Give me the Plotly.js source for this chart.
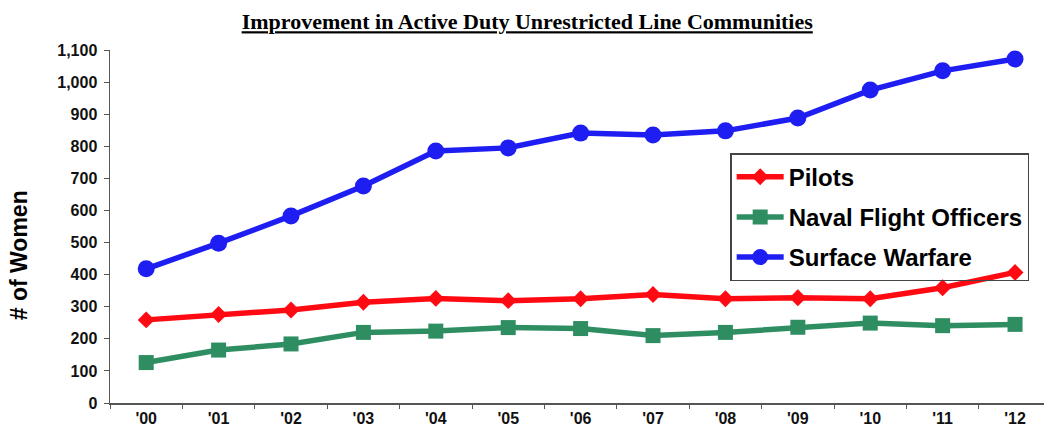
<!DOCTYPE html>
<html>
<head>
<meta charset="utf-8">
<script src="https://cdn.plot.ly/plotly-3.0.1.min.js"></script>
<style>html,body{margin:0;padding:0;background:#fff;}#chart{width:1044px;height:431px;}</style>
</head>
<body>
<div id="chart"></div>
<script>
const years = ["'00","'01","'02","'03","'04","'05","'06","'07","'08","'09","'10","'11","'12"];
const pilots = [259, 276, 290, 314, 326, 319, 325, 338, 325, 328, 325, 359, 407];
const nfo = [126, 165, 184, 220, 224, 235, 232, 210, 220, 236, 249, 241, 245];
const surfaceWarfare = [418, 498, 583, 676, 785, 795, 841, 835, 848, 888, 975, 1035, 1072];
const yTicks = [0,100,200,300,400,500,600,700,800,900,1000,1100];
const yTickText = ['0','100','200','300','400','500','600','700','800','900','1,000','1,100'];

const traces = [
  {x: years, y: pilots, name: 'Pilots', type: 'scatter', mode: 'lines+markers', legendgroup: 'a',
   line: {color: '#ff0a12', width: 5.5}, marker: {symbol: 'diamond', size: 13, color: '#ff0a12'}},
  {x: years, y: nfo, name: 'Naval Flight Officers', type: 'scatter', mode: 'lines+markers', legendgroup: 'b',
   line: {color: '#2e8e62', width: 5.5}, marker: {symbol: 'square', size: 15, color: '#2e8e62'}},
  {x: years, y: surfaceWarfare, name: 'Surface Warfare', type: 'scatter', mode: 'lines+markers', legendgroup: 'c',
   line: {color: '#1e1ef2', width: 5.5}, marker: {symbol: 'circle', size: 17, color: '#1e1ef2'}}
];

const tickFont = {family: 'Liberation Sans, Arial, sans-serif', size: 16, color: '#111', weight: 'bold'};

const layout = {
  width: 1044, height: 431,
  margin: {l: 110, r: 0, t: 50, b: 28},
  paper_bgcolor: '#fff', plot_bgcolor: '#fff',
  showlegend: true,
  title: {text: '<b><u>Improvement in Active Duty Unrestricted Line Communities</u></b>',
          font: {family: 'Liberation Serif, Times New Roman, serif', size: 22, color: '#000'},
          x: 0.505, xanchor: 'center', y: 0.95, yanchor: 'middle'},
  xaxis: {type: 'category', range: [-0.5, 12.4], showgrid: false, zeroline: false,
          showline: true, linecolor: '#555', linewidth: 1.5,
          ticks: 'outside', ticklen: 4, tickcolor: '#555', tickson: 'boundaries',
          tickfont: tickFont},
  yaxis: {range: [0, 1100], tickvals: yTicks, ticktext: yTickText, showgrid: false, zeroline: false,
          showline: true, linecolor: '#555', linewidth: 1.5,
          ticks: 'outside', ticklen: 5, tickcolor: '#555', ticklabelstandoff: 3,
          tickfont: tickFont},
  legend: {x: 0.664, y: 0.708, xanchor: 'left', yanchor: 'top',
           bgcolor: 'rgba(255,255,255,0)', bordercolor: '#444', borderwidth: 1.5,
           font: {family: 'Liberation Sans, Arial, sans-serif', size: 24, color: '#000', weight: 'bold'},
           itemwidth: 47, tracegroupgap: 6},
  annotations: [{text: '<b># of Women</b>', xref: 'paper', yref: 'paper', x: -0.098, y: 0.42,
                 xanchor: 'center', yanchor: 'middle', textangle: -90, showarrow: false,
                 font: {family: 'Liberation Sans, Arial, sans-serif', size: 23, color: '#000'}}]
};

Plotly.newPlot('chart', traces, layout, {displayModeBar: false, staticPlot: true});
</script>
</body>
</html>
